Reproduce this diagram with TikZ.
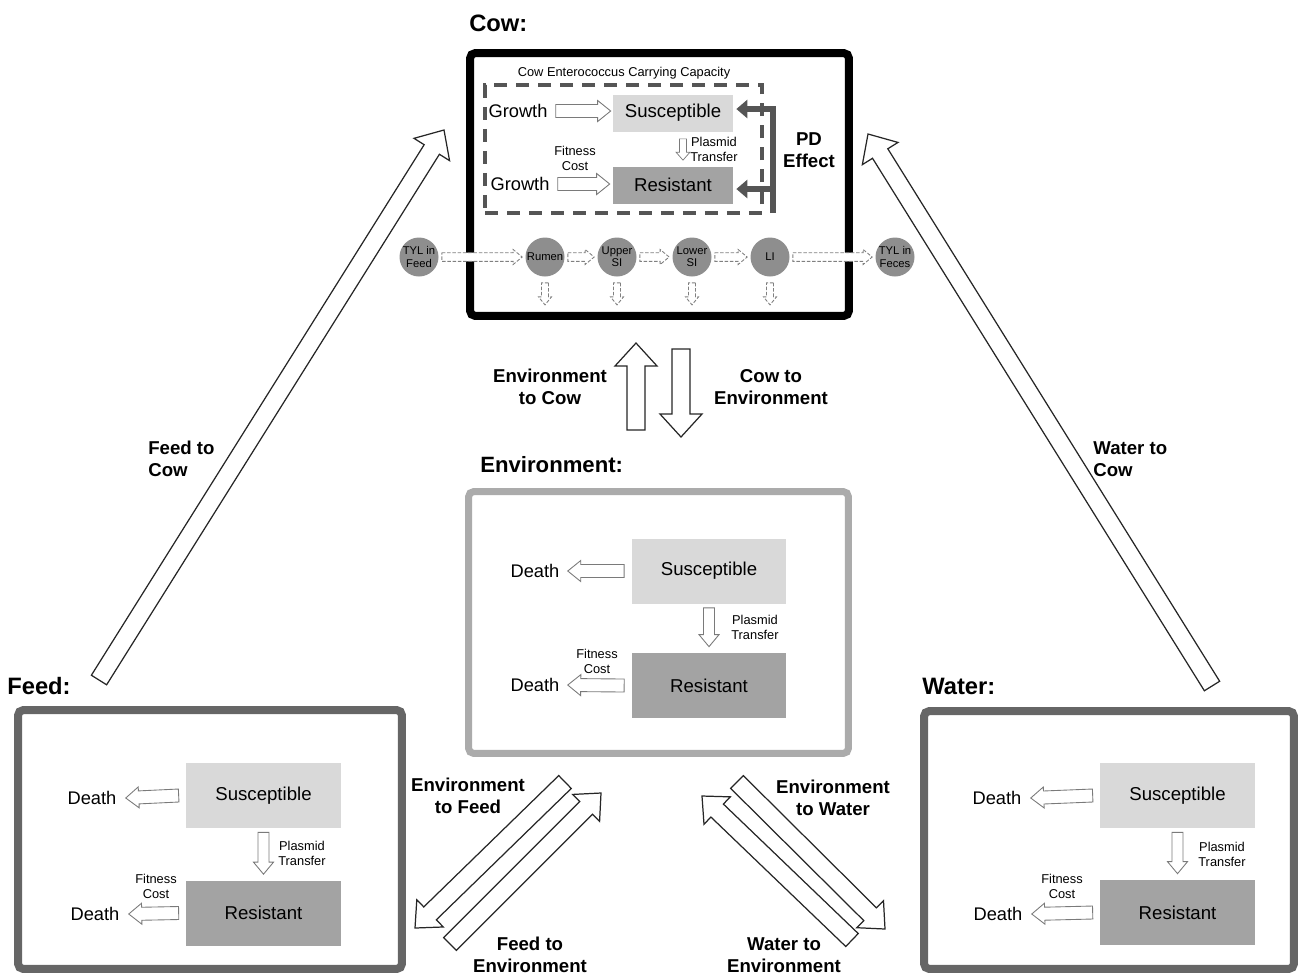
\documentclass[tikz,border=0pt]{standalone}
\usepackage{fontspec}
\setmainfont{Liberation Sans}
\usetikzlibrary{calc,positioning,arrows.meta}

\definecolor{susgray}{HTML}{D9D9D9}
\definecolor{resgray}{HTML}{A3A3A3}
\definecolor{drugball}{HTML}{8E8E8E}
\definecolor{framedark}{HTML}{666666}
\definecolor{framelight}{HTML}{ABABAB}
\definecolor{capgray}{HTML}{555555}
\definecolor{arrgray}{HTML}{7A7A7A}

\begin{document}
\begin{tikzpicture}[x=0.02cm,y=-0.02cm]

  \tikzset{
    compframe/.style={draw, line width=0.16cm, rounded corners=3pt, inner sep=0pt},
    title/.style={font=\fontsize{13.5}{16}\selectfont\bfseries, anchor=west, inner sep=0pt},
    flowlab/.style={font=\fontsize{10.6}{12.8}\selectfont\bfseries, align=center, inner sep=0pt},
    poplab/.style={font=\fontsize{10.4}{12}\selectfont, inner sep=0pt},
    note/.style={font=\fontsize{7.3}{8.6}\selectfont, align=center, inner sep=0pt},
    popbox/.style={inner sep=0pt, minimum width=3.1cm, minimum height=1.3cm, font=\fontsize{10.6}{12}\selectfont},
    susbox/.style={popbox, fill=susgray},
    resbox/.style={popbox, fill=resgray},
    gut/.style={circle, fill=drugball, minimum size=0.78cm, inner sep=0pt, align=center, font=\fontsize{6.4}{7}\selectfont},
    blk/.style n args={3}{to path={
      let \p1=(\tikztostart), \p2=(\tikztotarget), \p3=($(\p2)!#3*0.02cm!(\p1)$) in
      ($(\p1)!#1*0.02cm!90:(\p2)$) -- ($(\p3)!#1*0.02cm!-90:(\p1)$)
      -- ($(\p3)!#2*0.02cm!-90:(\p1)$) -- (\p2)
      -- ($(\p3)!#2*0.02cm!90:(\p1)$) -- ($(\p3)!#1*0.02cm!90:(\p1)$)
      -- ($(\p1)!#1*0.02cm!-90:(\p2)$) -- cycle}},
    fatarrow/.style={blk={9}{21}{23}, draw=black!85, fill=white, line width=0.7pt},
    smallarrow/.style={blk={6.5}{10.5}{13}, draw=arrgray, fill=white, line width=0.5pt},
    tinyarrow/.style={blk={3.5}{7}{8}, draw=arrgray, fill=white, line width=0.4pt},
    drugarrow/.style={blk={4.3}{7.5}{9}, draw=gray, fill=white, dash pattern=on 2pt off 1pt, line width=0.5pt},
    drugdrop/.style={blk={3.5}{6.5}{8}, draw=gray, fill=white, dash pattern=on 2pt off 1pt, line width=0.5pt},
    pdarrow/.style={draw=capgray, line width=0.12cm, -{Triangle[length=0.22cm,width=0.36cm]}}
  }

  \useasboundingbox (0,0) rectangle (1304,975);

% Cow
  \node[title] (cowt) at (469,23) {Cow:};
  \node[compframe, draw=black, minimum width=7.58cm, minimum height=5.26cm] (cow) at (659.5,184.5) {};
  \node[draw=capgray, line width=0.08cm, dash pattern=on 0.26cm off 0.18cm, minimum width=5.54cm, minimum height=2.56cm, inner sep=0pt] (cap) at (623.5,149) {};
  \node[note] (capt) at (624,73) {Cow Enterococcus Carrying Capacity};
  \node[susbox, minimum width=2.4cm, minimum height=0.74cm] (sus1) at (673,113) {Susceptible};
  \node[resbox, minimum width=2.4cm, minimum height=0.74cm] (res1) at (673,185) {Resistant};
  \node[poplab] (gr1) at (518,111) {Growth};
  \node[poplab] (gr2) at (520,184) {Growth};
  \node[note] (fit1) at (575,158) {Fitness\\Cost};
  \node[note, anchor=west] (pl1) at (690,149) {Plasmid\\Transfer};
  \node[flowlab] (pd) at (809,150) {PD\\Effect};
  \coordinate (pdbot) at (773,213);

  \draw[smallarrow] ($(gr1.east)+(8,0)$) to ($(sus1.west)+(-2,-2)$);
  \draw[smallarrow] ($(gr2.east)+(8,0)$) to ($(res1.west)+(-3,-1)$);
  \draw[tinyarrow] ($(sus1.south)+(10,7)$) to ($(res1.north)+(10,-6)$);
  \draw[pdarrow] (pdbot) |- ($(sus1.east)+(3,-4)$);
  \draw[pdarrow] ($(pdbot |- res1.east)+(0,4)$) -- ($(res1.east)+(3,4)$);

  % drug along the gut
  \node[gut] (tylf) at (419,257) {TYL in\\Feed};
  \node[gut] (rumen) at (545,257) {Rumen};
  \node[gut] (usi) at (617,257) {Upper\\SI};
  \node[gut] (lsi) at (692,257) {Lower\\SI};
  \node[gut] (li) at (770,257) {LI};
  \node[gut] (tylx) at (895,257) {TYL in\\Feces};

  \draw[drugarrow] ($(tylf.east)+(3,0)$) to ($(rumen.west)+(-3,0)$);
  \draw[drugarrow] ($(rumen.east)+(3,0)$) to ($(usi.west)+(-3,0)$);
  \draw[drugarrow] ($(usi.east)+(3,0)$) to ($(lsi.west)+(-3,0)$);
  \draw[drugarrow] ($(lsi.east)+(3,0)$) to ($(li.west)+(-3,0)$);
  \draw[drugarrow] ($(li.east)+(3,0)$) to ($(tylx.west)+(-3,0)$);
  \draw[drugdrop] ($(rumen.south)+(0,6)$) to ($(rumen.south)+(0,28)$);
  \draw[drugdrop] ($(usi.south)+(0,6)$) to ($(usi.south)+(0,28)$);
  \draw[drugdrop] ($(lsi.south)+(0,6)$) to ($(lsi.south)+(0,28)$);
  \draw[drugdrop] ($(li.south)+(0,6)$) to ($(li.south)+(0,28)$);

% Cow <-> Environment
  \coordinate (ec0) at (636,430);
  \coordinate (ec1) at (636,343);
  \coordinate (ce0) at (681,349);
  \coordinate (ce1) at (681,437);
  \draw[fatarrow] (ec0) to (ec1);
  \draw[fatarrow] (ce0) to (ce1);
  \node[flowlab] (ect) at (550,387) {Environment\\to Cow};
  \node[flowlab] (cet) at (771,387) {Cow to\\Environment};

% Environment
  \node[title, font=\fontsize{12.6}{15}\selectfont\bfseries] (envt) at (480,465) {Environment:};
  \node[compframe, draw=framelight, line width=0.14cm, minimum width=7.6cm, minimum height=5.24cm] (env) at (658.5,622.5) {};
  \node[susbox] (sus2) at (709,571) {Susceptible};
  \node[resbox] (res2) at (709,685.5) {Resistant};
  \node[poplab] (d2a) at (535,571) {Death};
  \node[poplab] (d2b) at (535,685) {Death};
  \node[note, anchor=west] (pl2) at (731,627) {Plasmid\\Transfer};
  \node[note] (fit2) at (597,661) {Fitness\\Cost};

  \draw[smallarrow] ($(sus2.west)+(-7,0)$) to ($(d2a.east)+(8,0)$);
  \draw[smallarrow] ($(res2.west)+(-7,0)$) to ($(d2b.east)+(8,0)$);
  \draw[smallarrow, blk={5.5}{10}{12}] ($(sus2.south)+(0,4)$) to ($(res2.north)+(0,-6)$);

% Feed
  \node[title] (feedt) at (7,686) {Feed:};
  \node[compframe, draw=framedark, minimum width=7.68cm, minimum height=5.18cm] (feed) at (210,839.5) {};
  \node[susbox] (sus3) at (263.5,795.5) {Susceptible};
  \node[resbox] (res3) at (263.5,913) {Resistant};
  \node[poplab] (d3a) at (92,798) {Death};
  \node[poplab] (d3b) at (95,914) {Death};
  \node[note, anchor=west] (pl3) at (278,853) {Plasmid\\Transfer};
  \node[note] (fit3) at (156,886) {Fitness\\Cost};

  \draw[smallarrow] ($(sus3.west)+(-7,0)$) to ($(d3a.east)+(9,0)$);
  \draw[smallarrow] ($(res3.west)+(-7,0)$) to ($(d3b.east)+(9,0)$);
  \draw[smallarrow, blk={5.5}{10}{12}] ($(sus3.south)+(0,4)$) to ($(res3.north)+(0,-6)$);

% Water
  \node[title] (watert) at (922,686) {Water:};
  \node[compframe, draw=framedark, minimum width=7.4cm, minimum height=5.16cm] (water) at (1109,840) {};
  \node[susbox] (sus4) at (1177.5,795.5) {Susceptible};
  \node[resbox] (res4) at (1177.5,912.5) {Resistant};
  \node[poplab] (d4a) at (997,798) {Death};
  \node[poplab] (d4b) at (998,914) {Death};
  \node[note, anchor=west] (pl4) at (1198,854) {Plasmid\\Transfer};
  \node[note] (fit4) at (1062,886) {Fitness\\Cost};

  \draw[smallarrow] ($(sus4.west)+(-7,0)$) to ($(d4a.east)+(9,0)$);
  \draw[smallarrow] ($(res4.west)+(-7,0)$) to ($(d4b.east)+(9,0)$);
  \draw[smallarrow, blk={5.5}{10}{12}] ($(sus4.south)+(0,4)$) to ($(res4.north)+(0,-6)$);

% Feed / Water to Cow
  \coordinate (fc0) at (99,680);
  \coordinate (fc1) at (444,130);
  \coordinate (wc0) at (1212,686);
  \coordinate (wc1) at (868,134);
  \draw[fatarrow] (fc0) to (fc1);
  \draw[fatarrow] (wc0) to (wc1);
  \node[flowlab, align=left, anchor=west] (fct) at (148,459) {Feed to\\Cow};
  \node[flowlab, align=left, anchor=west] (wct) at (1093,459) {Water to\\Cow};

% Environment <-> Feed / Water
  \coordinate (ef0) at (565,782);
  \coordinate (ef1) at (415,928);
  \coordinate (fe0) at (450,944);
  \coordinate (fe1) at (601,793);
  \coordinate (ew0) at (737,782);
  \coordinate (ew1) at (885,929);
  \coordinate (we0) at (852,940);
  \coordinate (we1) at (702,796);
  \draw[fatarrow, blk={9}{19}{21}] (ef0) to (ef1);
  \draw[fatarrow, blk={9}{19}{21}] (fe0) to (fe1);
  \draw[fatarrow, blk={9}{19}{21}] (ew0) to (ew1);
  \draw[fatarrow, blk={9}{19}{21}] (we0) to (we1);
  \node[flowlab] (eft) at (468,796) {Environment\\to Feed};
  \node[flowlab] (ewt) at (833,798) {Environment\\to Water};
  \node[flowlab] (fet) at (530,955) {Feed to\\Environment};
  \node[flowlab] (wet) at (784,955) {Water to\\Environment};

\end{tikzpicture}
\end{document}
